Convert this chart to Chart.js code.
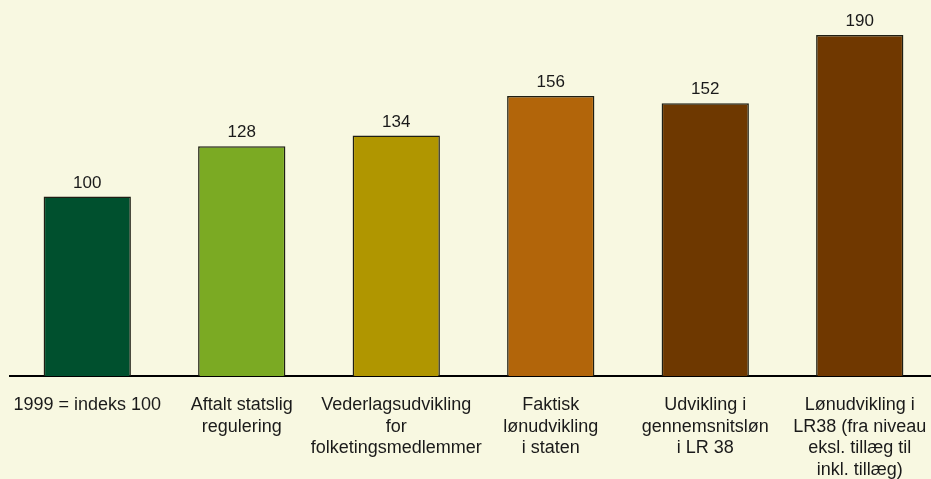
<!DOCTYPE html>
<html><head><meta charset="utf-8">
<script src="https://cdn.jsdelivr.net/npm/chart.js@4/dist/chart.umd.min.js"></script>
<style>
html,body{margin:0;padding:0;background:#F8F8E1;overflow:hidden;}
#wrap{width:937px;height:479px;position:relative;}
</style></head><body>
<div id="wrap"><canvas id="c"></canvas></div>
<script>
const categories = [
  "1999 = indeks 100",
  ["Aftalt statslig", "regulering"],
  ["Vederlagsudvikling", "for", "folketingsmedlemmer"],
  ["Faktisk", "lønudvikling", "i staten"],
  ["Udvikling i", "gennemsnitsløn", "i LR 38"],
  ["Lønudvikling i", "LR38 (fra niveau", "eksl. tillæg til", "inkl. tillæg)"]
];
const values = [100, 128, 134, 156, 152, 190];
const barColors = ["#00502E", "#7BAA23", "#B09600", "#B2650A", "#6E3800", "#703800"];

const valueLabels = {
  id: 'valueLabels',
  afterDatasetsDraw(chart) {
    const ctx = chart.ctx;
    const meta = chart.getDatasetMeta(0);
    ctx.save();
    ctx.font = '17px "Liberation Sans", Arial, sans-serif';
    ctx.fillStyle = '#1a1a1a';
    ctx.textAlign = 'center';
    ctx.textBaseline = 'alphabetic';
    meta.data.forEach((bar, i) => {
      ctx.fillText(String(values[i]), bar.x, bar.y - 9);
    });
    ctx.restore();
  }
};

new Chart(document.getElementById('c'), {
  type: 'bar',
  data: {
    labels: categories,
    datasets: [{
      data: values,
      backgroundColor: barColors,
      borderColor: '#1f1f14',
      borderWidth: 1.5,
      borderSkipped: 'bottom',
      barPercentage: 0.565,
      categoryPercentage: 1.0
    }]
  },
  options: {
    responsive: true,
    maintainAspectRatio: false,
    animation: false,
    layout: { padding: { left: 10, right: 0, top: 35, bottom: 0 } },
    plugins: { legend: { display: false }, tooltip: { enabled: false } },
    scales: {
      x: {
        grid: { display: false, drawTicks: false },
        border: { display: true, color: '#000', width: 2 },
        afterFit(scale) {
          scale.height = 103;
          scale.paddingLeft = 0;
          scale.paddingRight = 0;
        },
        ticks: {
          color: '#1a1a1a',
          padding: 18,
          maxRotation: 0,
          autoSkip: false,
          font: { family: '"Liberation Sans", Arial, sans-serif', size: 18, lineHeight: 1.21 }
        }
      },
      y: {
        display: false,
        min: 0,
        max: 190,
        grid: { display: false }
      }
    }
  },
  plugins: [valueLabels]
});
</script>
</body></html>
